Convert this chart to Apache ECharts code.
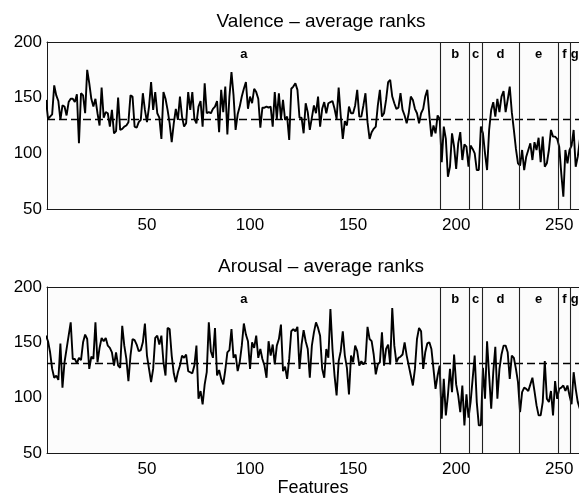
<!DOCTYPE html>
<html>
<head>
<meta charset="utf-8">
<script src="https://cdn.jsdelivr.net/npm/echarts@6/dist/echarts.min.js"></script>
<style>
html,body{margin:0;padding:0;background:#fff;}
#chart{width:579px;height:498px;}
</style>
</head>
<body>
<div id="chart"></div>
<script>
// ---- data ----
const titles = ['Valence \u2013 average ranks', 'Arousal \u2013 average ranks'];
const xTickLabels = [50, 100, 150, 200, 250];
const yTickLabels = [50, 100, 150, 200];
const meanRank = 131;
const groupNames = ['a', 'b', 'c', 'd', 'e', 'f', 'g'];
const groupBounds = [1, 192.5, 206.5, 212.5, 230.5, 249.5, 255.5, 261];

const valence = [
148,131,133,135,161,152,147,130,143,142,
134,146,149,149,146,153,109,154,152,136,
175,163,149,142,149,136,125,159,132,137,
136,124,139,118,120,150,121,122,124,125,
128,152,151,124,123,128,130,154,139,128,
142,164,139,155,136,132,113,155,149,139,
127,110,127,140,130,151,133,124,127,155,
139,155,131,127,142,147,124,163,136,137,
136,140,142,147,119,157,137,160,117,151,
173,152,121,135,142,151,158,164,140,151,
145,158,155,149,123,141,141,142,141,142,
124,155,131,154,131,148,130,133,112,158,
160,163,157,132,132,118,145,137,121,132,
143,136,151,124,140,146,136,145,146,147,
140,131,159,134,113,129,125,142,136,136,
143,157,133,133,143,154,128,113,119,122,
124,143,157,133,136,148,164,166,151,145,
140,141,154,139,134,127,136,151,148,140,
136,127,136,140,151,157,134,115,125,118,
134,131,92,124,113,79,88,118,106,86,
109,119,94,108,106,88,107,104,100,85,
85,124,118,100,85,121,139,146,133,149,
137,151,156,137,148,160,137,121,104,91,
89,103,85,97,103,109,94,110,103,114,
92,115,88,91,103,121,115,115,113,106,
82,61,103,91,103,107,121,88,97,112,
120
];

const arousal = [
156,151,141,126,118,120,116,149,109,132,
144,156,168,135,135,131,136,134,150,157,
153,126,137,135,168,132,145,154,151,154,
147,145,141,129,141,129,127,165,147,135,
115,138,153,152,148,142,143,150,167,138,
126,114,126,154,156,148,156,132,120,163,
162,138,122,114,123,129,138,136,139,124,
123,122,129,147,99,106,94,112,123,168,
142,136,163,120,125,117,112,125,141,143,
162,136,139,124,132,147,167,157,151,126,
150,145,156,136,144,135,129,118,151,138,
148,130,147,153,166,124,128,117,135,160,
162,160,164,126,148,161,151,144,118,147,
159,168,163,156,126,118,144,136,180,144,
120,102,133,142,160,138,127,103,138,132,
147,142,129,133,130,133,164,153,151,139,
121,130,132,159,129,144,148,130,181,147,
132,136,137,139,150,138,129,120,111,126,
153,163,160,126,141,149,150,144,126,108,
120,129,81,117,84,102,126,105,139,112,
102,87,111,75,103,82,96,117,138,96,
75,75,127,99,151,120,90,123,146,99,
126,139,147,147,141,117,138,136,126,114,
87,105,109,108,106,112,118,106,93,84,
84,96,133,99,96,106,84,115,99,108,
109,111,106,111,102,94,123,108,96,90,
93
];

// ---- chart ----
const FONT = '"Liberation Sans", Arial, Helvetica, sans-serif';
const GRID_LEFT = 47, GRID_W = 532, GRID_H = 167;
const X_MIN = 1.5, X_MAX = 259.6;   // the axis runs on past the window's right edge
const FULL_W = 538;                 // full (cropped) axes width, used to centre the titles
const gridTops = [42, 287];
const seriesList = [valence, arousal];
const AXIS_COLOR = '#1a1a1a';

const chart = echarts.init(document.getElementById('chart'), null, {renderer: 'canvas'});

const grids = gridTops.map(t => ({
  left: GRID_LEFT, top: t, width: GRID_W, height: GRID_H,
  show: true, backgroundColor: '#fcfcfc', borderWidth: 0
}));

const xAxes = gridTops.map((t, i) => ({
  type: 'value', gridIndex: i, min: X_MIN, max: X_MAX, position: 'bottom',
  axisLine: {show: true, onZero: false, lineStyle: {color: AXIS_COLOR, width: 1}},
  axisTick: {show: false}, splitLine: {show: false},
  axisLabel: {
    customValues: xTickLabels, color: '#000', fontFamily: FONT, fontSize: 17, margin: 8
  },
  name: i === 1 ? 'Features' : '',
  nameLocation: 'middle', nameGap: 26,
  nameTextStyle: {color: '#000', fontFamily: FONT, fontSize: 18}
})).concat(gridTops.map((t, i) => ({
  type: 'value', gridIndex: i, min: X_MIN, max: X_MAX, position: 'top',
  axisLine: {show: true, onZero: false, lineStyle: {color: AXIS_COLOR, width: 1}},
  axisTick: {show: false}, splitLine: {show: false}, axisLabel: {show: false}
})));

const yAxes = gridTops.map((t, i) => ({
  type: 'value', gridIndex: i, min: 50, max: 200, interval: 50,
  axisLine: {show: true, onZero: false, lineStyle: {color: AXIS_COLOR, width: 1}},
  axisTick: {show: false}, splitLine: {show: false},
  axisLabel: {color: '#000', fontFamily: FONT, fontSize: 17, margin: 5}
}));

const series = seriesList.map((vals, i) => ({
  type: 'line', xAxisIndex: i, yAxisIndex: i,
  data: vals.map((v, j) => [j + 1, v]),
  showSymbol: false, symbol: 'none',
  lineStyle: {color: '#000', width: 1.9},
  z: 3,
  markLine: {
    silent: true, symbol: 'none', animation: false,
    label: {show: false},
    data: [
      {yAxis: meanRank, lineStyle: {type: [8, 4], color: '#000', width: 1.4}}
    ].concat(groupBounds.slice(1, -1).map(b => ({xAxis: b, lineStyle: {type: 'solid', color: '#222', width: 1.1}})))
  },
  markArea: {
    silent: true, animation: false,
    itemStyle: {color: 'rgba(0,0,0,0)'},
    label: {
      show: true, position: 'insideTop', distance: 6,
      color: '#000', fontFamily: FONT, fontSize: 13, fontWeight: 'bold'
    },
    data: groupNames.map((n, k) => [
      {name: n, xAxis: groupBounds[k], yAxis: 50},
      {xAxis: groupBounds[k + 1], yAxis: 200}
    ])
  }
}));

const titleOpts = titles.map((txt, i) => ({
  text: txt,
  left: GRID_LEFT + FULL_W / 2, top: gridTops[i] - 35,
  textAlign: 'center',
  textStyle: {color: '#000', fontFamily: FONT, fontSize: 19, fontWeight: 'normal'}
}));

chart.setOption({
  backgroundColor: '#ffffff',
  animation: false,
  title: titleOpts,
  grid: grids,
  xAxis: xAxes,
  yAxis: yAxes,
  series: series
});
</script>
</body>
</html>
